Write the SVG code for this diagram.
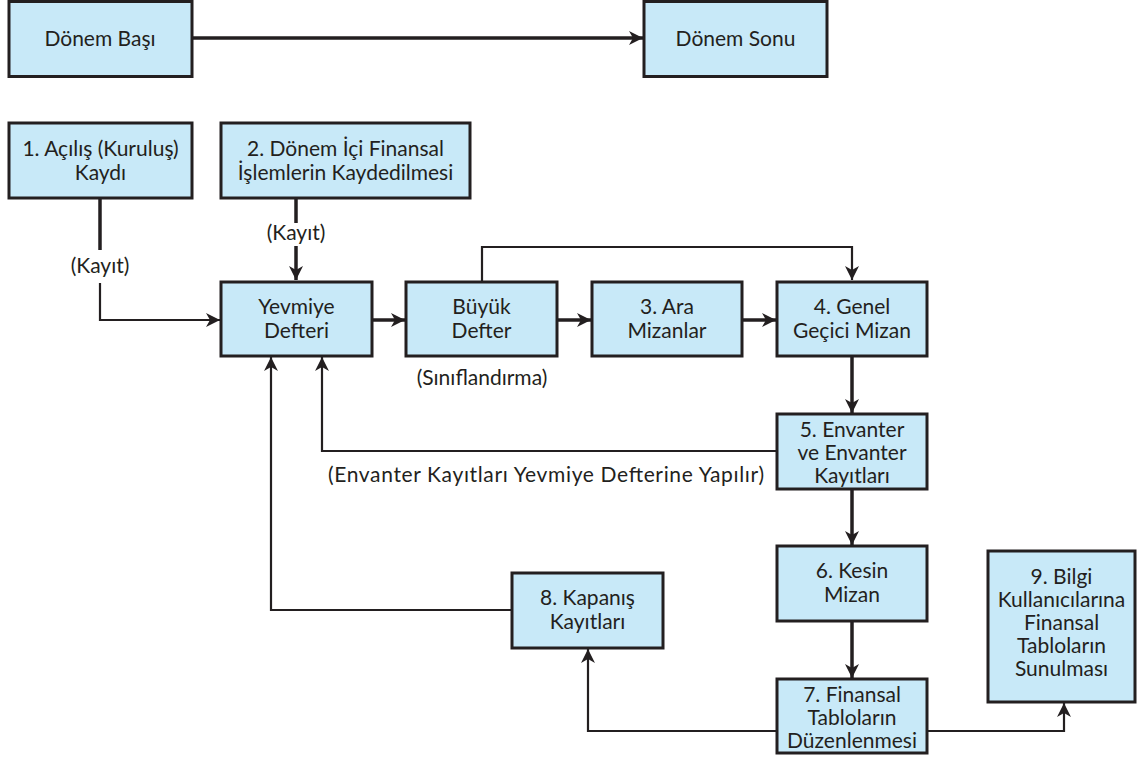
<svg xmlns="http://www.w3.org/2000/svg" width="1137" height="760" viewBox="0 0 1137 760">
  <style>
    .box { fill: #c8e9f8; stroke: #231f20; stroke-width: 3; }
    .t { font-family: Lato, "Open Sans", "Liberation Sans", sans-serif; font-size: 21px; fill: #231f20; text-anchor: middle; }
    .thick { fill: none; stroke: #231f20; stroke-width: 3.5; }
    .thin { fill: none; stroke: #231f20; stroke-width: 2.2; }
  </style>
  <defs>
    <marker id="arr" markerUnits="userSpaceOnUse" markerWidth="16" markerHeight="14" refX="14" refY="7" orient="auto">
      <path d="M0,0 L14,7 L0,14 L4,7 z" fill="#231f20"/>
    </marker>
  </defs>

  <rect width="1137" height="760" fill="#ffffff"/>

  <!-- connectors -->
  <g id="connectors">
    <line class="thick" x1="192" y1="38" x2="643" y2="38" marker-end="url(#arr)"/>
    <!-- 1 -> Yevmiye -->
    <line class="thick" x1="100" y1="198" x2="100" y2="250"/>
    <polyline class="thin" points="100,283 100,320 220,320" marker-end="url(#arr)"/>
    <!-- 2 -> Yevmiye -->
    <line class="thick" x1="296" y1="198" x2="296" y2="223"/>
    <line class="thick" x1="296" y1="246" x2="296" y2="280" marker-end="url(#arr)"/>
    <!-- main row -->
    <line class="thick" x1="372" y1="320" x2="405" y2="320" marker-end="url(#arr)"/>
    <line class="thick" x1="557" y1="320" x2="591" y2="320" marker-end="url(#arr)"/>
    <line class="thick" x1="742" y1="320" x2="776" y2="320" marker-end="url(#arr)"/>
    <!-- Büyük Defter -> 4 -->
    <polyline class="thin" points="482,281 482,247 852,247 852,280" marker-end="url(#arr)"/>
    <!-- vertical chain -->
    <line class="thick" x1="852" y1="357" x2="852" y2="413" marker-end="url(#arr)"/>
    <line class="thick" x1="852" y1="490" x2="852" y2="545" marker-end="url(#arr)"/>
    <line class="thick" x1="852" y1="622" x2="852" y2="678" marker-end="url(#arr)"/>
    <!-- 5 -> Yevmiye -->
    <polyline class="thin" points="777,451 322,451 322,357" marker-end="url(#arr)"/>
    <!-- 8 -> Yevmiye -->
    <polyline class="thin" points="512,610 271,610 271,357" marker-end="url(#arr)"/>
    <!-- 7 -> 8 -->
    <polyline class="thin" points="777,731 588,731 588,649" marker-end="url(#arr)"/>
    <!-- 7 -> 9 -->
    <polyline class="thin" points="927,731 1064,731 1064,703" marker-end="url(#arr)"/>
  </g>

  <g id="donem-basi">
    <rect class="box" x="9" y="1.5" width="183" height="75"/>
    <text class="t" x="100" y="46">Dönem Başı</text>
  </g>
  <g id="donem-sonu">
    <rect class="box" x="644" y="1.5" width="183" height="75"/>
    <text class="t" x="735.5" y="46">Dönem Sonu</text>
  </g>
  <g id="n1">
    <rect class="box" x="9" y="123" width="183" height="75"/>
    <text class="t" x="100.5" y="156">1. Açılış (Kuruluş)</text>
    <text class="t" x="100.5" y="180">Kaydı</text>
  </g>
  <g id="n2">
    <rect class="box" x="221" y="123" width="249" height="75"/>
    <text class="t" x="345.5" y="156">2. Dönem İçi Finansal</text>
    <text class="t" x="345.5" y="180">İşlemlerin Kaydedilmesi</text>
  </g>
  <text class="t" x="100" y="273">(Kayıt)</text>
  <text class="t" x="296" y="240">(Kayıt)</text>
  <g id="yevmiye">
    <rect class="box" x="221" y="282" width="151" height="74"/>
    <text class="t" x="296.5" y="314">Yevmiye</text>
    <text class="t" x="296.5" y="338">Defteri</text>
  </g>
  <g id="buyuk-defter">
    <rect class="box" x="406" y="282" width="151" height="74"/>
    <text class="t" x="481.5" y="314">Büyük</text>
    <text class="t" x="481.5" y="338">Defter</text>
  </g>
  <text class="t" x="482" y="385">(Sınıflandırma)</text>
  <g id="n3">
    <rect class="box" x="592" y="282" width="150" height="74"/>
    <text class="t" x="667" y="314">3. Ara</text>
    <text class="t" x="667" y="338">Mizanlar</text>
  </g>
  <g id="n4">
    <rect class="box" x="777" y="282" width="150" height="74"/>
    <text class="t" x="852" y="314">4. Genel</text>
    <text class="t" x="852" y="338">Geçici Mizan</text>
  </g>
  <g id="n5">
    <rect class="box" x="777" y="414" width="150" height="75"/>
    <text class="t" x="852" y="437">5. Envanter</text>
    <text class="t" x="852" y="460">ve Envanter</text>
    <text class="t" x="852" y="483">Kayıtları</text>
  </g>
  <text class="t" x="546" y="482" textLength="436" lengthAdjust="spacing">(Envanter Kayıtları Yevmiye Defterine Yapılır)</text>
  <g id="n6">
    <rect class="box" x="777" y="546" width="150" height="75"/>
    <text class="t" x="852" y="578">6. Kesin</text>
    <text class="t" x="852" y="602">Mizan</text>
  </g>
  <g id="n7">
    <rect class="box" x="777" y="679" width="150" height="74"/>
    <text class="t" x="852" y="702">7. Finansal</text>
    <text class="t" x="852" y="725">Tabloların</text>
    <text class="t" x="852" y="748">Düzenlenmesi</text>
  </g>
  <g id="n8">
    <rect class="box" x="512" y="573" width="151" height="75"/>
    <text class="t" x="587.5" y="605">8. Kapanış</text>
    <text class="t" x="587.5" y="629">Kayıtları</text>
  </g>
  <g id="n9">
    <rect class="box" x="988" y="551" width="147" height="151"/>
    <text class="t" x="1061.5" y="584">9. Bilgi</text>
    <text class="t" x="1061.5" y="607">Kullanıcılarına</text>
    <text class="t" x="1061.5" y="630">Finansal</text>
    <text class="t" x="1061.5" y="653">Tabloların</text>
    <text class="t" x="1061.5" y="676">Sunulması</text>
  </g>
</svg>
